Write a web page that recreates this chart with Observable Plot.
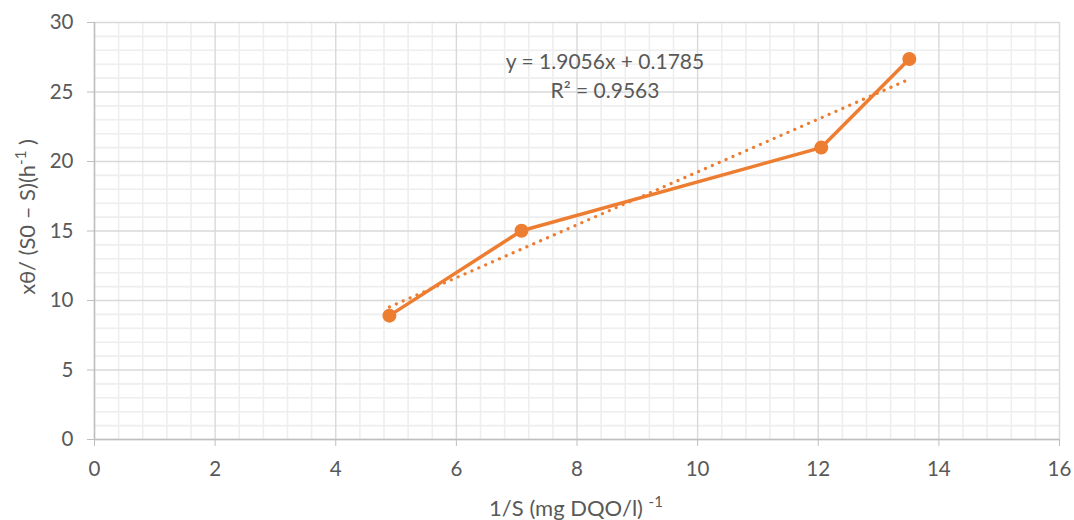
<!DOCTYPE html>
<html>
<head>
<meta charset="utf-8">
<script src="https://cdn.jsdelivr.net/npm/d3@7"></script>
<script src="https://cdn.jsdelivr.net/npm/@observablehq/plot@0.6"></script>
<style>
  html, body { margin: 0; padding: 0; background: #ffffff; }
  #chart { width: 1074px; height: 520px; }
</style>
</head>
<body>
<div id="chart"></div>
<script>
// Data
const invS = [4.89, 7.08, 12.05, 13.51];          // 1/S (mg DQO/l)^-1
const ratio = [8.91, 15.02, 21.0, 27.37];         // Xθ/(S0 – S) (h^-1)

// Axis ticks
const xMajor = [0, 2, 4, 6, 8, 10, 12, 14, 16];
const yMajor = [0, 5, 10, 15, 20, 25, 30];
const xMinor = [0.4, 0.8, 1.2, 1.6, 2.4, 2.8, 3.2, 3.6, 4.4, 4.8, 5.2, 5.6, 6.4, 6.8, 7.2, 7.6,
                8.4, 8.8, 9.2, 9.6, 10.4, 10.8, 11.2, 11.6, 12.4, 12.8, 13.2, 13.6, 14.4, 14.8, 15.2, 15.6];
const yMinor = [1, 2, 3, 4, 6, 7, 8, 9, 11, 12, 13, 14, 16, 17, 18, 19, 21, 22, 23, 24, 26, 27, 28, 29];

// Texts
const equationLines = ["y = 1.9056x + 0.1785", "R² = 0.9563"];
const xTitle = "1/S (mg DQO/l) ";
const xTitleSup = "-1";
const yTitle = "xθ/ (S0 – S)(h";
const yTitleSup = "-1";
const yTitleEnd = " )";

const data = invS.map((x, i) => ({x, y: ratio[i]}));
const orange = "#ED7D31";
const font = "Lato, 'Open Sans', sans-serif";

const chart = Plot.plot({
  width: 1074,
  height: 520,
  marginLeft: 94,
  marginRight: 15,
  marginTop: 22,
  marginBottom: 81,
  x: {domain: [0, 16]},
  y: {domain: [0, 30]},
  style: {fontFamily: font, fontSize: "20px", background: "#ffffff", overflow: "visible"},
  marks: [
    Plot.gridX(xMinor, {stroke: "#eeeeee", strokeOpacity: 1, strokeWidth: 1.6}),
    Plot.gridY(yMinor, {stroke: "#eeeeee", strokeOpacity: 1, strokeWidth: 1.6}),
    Plot.gridX(xMajor, {stroke: "#d9d9d9", strokeOpacity: 1, strokeWidth: 1.4}),
    Plot.gridY(yMajor, {stroke: "#d9d9d9", strokeOpacity: 1, strokeWidth: 1.4}),
    Plot.ruleX([0], {stroke: "#bfbfbf", strokeWidth: 1.5}),
    Plot.ruleY([0], {stroke: "#bfbfbf", strokeWidth: 1.5}),
    Plot.axisX(xMajor, {tickSize: 7, tickPadding: 15, stroke: "#bfbfbf", fill: "#595959", label: null, fontSize: 20.5}),
    Plot.axisY(yMajor, {tickSize: 7, tickPadding: 14, stroke: "#bfbfbf", fill: "#595959", label: null, fontSize: 20.5}),
    Plot.linearRegressionY(data, {x: "x", y: "y", ci: 0, stroke: orange, strokeWidth: 3.2,
      strokeDasharray: "0.1,7.4", strokeLinecap: "round"}),
    Plot.line(data, {x: "x", y: "y", stroke: orange, strokeWidth: 3.5, strokeLinejoin: "round"}),
    Plot.dot(data, {x: "x", y: "y", r: 7, fill: orange, stroke: null}),
    Plot.text([equationLines.join("\n")], {frameAnchor: "top", dx: 28, dy: 52, lineAnchor: "middle",
      lineHeight: 1.38, fill: "#595959", fontSize: 21, textAnchor: "middle"})
  ]
});

document.getElementById("chart").appendChild(chart);

// Axis titles as real SVG text with superscripts
const svg = d3.select(chart);
const xt = svg.append("text")
  .attr("x", 576).attr("y", 516)
  .attr("text-anchor", "middle")
  .attr("fill", "#595959")
  .style("font-family", font)
  .style("font-size", "22px");
xt.append("tspan").text(xTitle);
xt.append("tspan").attr("dy", -9).style("font-size", "15px").text(xTitleSup);

const yt = svg.append("text")
  .attr("transform", "translate(35,217) rotate(-90)")
  .attr("text-anchor", "middle")
  .attr("fill", "#595959")
  .style("font-family", font)
  .style("font-size", "22px");
yt.append("tspan").text(yTitle);
yt.append("tspan").attr("dy", -9).style("font-size", "15px").text(yTitleSup);
yt.append("tspan").attr("dy", 9).text(yTitleEnd);
</script>
</body>
</html>
